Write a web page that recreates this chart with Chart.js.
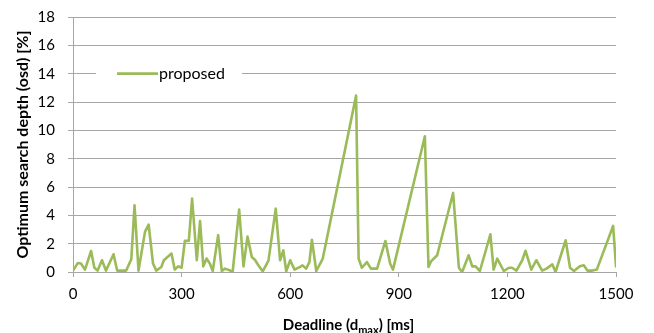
<!DOCTYPE html>
<html>
<head>
<meta charset="utf-8">
<script src="https://cdn.jsdelivr.net/npm/chart.js@4/dist/chart.umd.min.js"></script>
<style>
  html, body { margin: 0; padding: 0; background: #fff; }
  #wrap { width: 654px; height: 333px; }
</style>
</head>
<body>
<div id="wrap"><canvas id="osdChart" width="654" height="333"></canvas></div>
<script>
// deadline values (ms) and optimum search depth (%) for the proposed scheme
const deadlineMs = [
  0, 13, 22, 33, 50, 59, 68, 80, 91, 112, 122, 138, 147, 161, 170, 181, 199, 209, 221, 230,
  244, 251, 272, 281, 291, 300, 309, 320, 329, 342, 351, 360, 369, 378, 386, 401, 411, 420, 434, 441,
  459, 471, 482, 494, 503, 512, 524, 540, 560, 572, 581, 589, 600, 612, 626, 634, 644, 653, 660, 672,
  690, 782, 789, 798, 812, 823, 840, 863, 876, 884, 972, 982, 989, 1006, 1050, 1066, 1075, 1093, 1103, 1112,
  1124, 1153, 1162, 1172, 1190, 1204, 1213, 1225, 1241, 1250, 1266, 1280, 1296, 1308, 1324, 1333, 1361, 1373, 1384, 1400,
  1411, 1421, 1435, 1447, 1492, 1500
];
const osdPercent = [
  0.1, 0.63, 0.6, 0.17, 1.48, 0.3, 0.1, 0.83, 0.1, 1.25, 0.1, 0.1, 0.1, 0.9, 4.7, 0.1, 2.85, 3.35, 0.6, 0.1,
  0.35, 0.83, 1.3, 0.17, 0.4, 0.3, 2.2, 2.2, 5.18, 0.83, 3.6, 0.4, 0.95, 0.6, 0.07, 2.6, 0.07, 0.24, 0.1, 0,
  4.4, 0.4, 2.5, 1.06, 0.85, 0.47, 0.05, 0.8, 4.47, 0.83, 1.53, 0.05, 0.83, 0.17, 0.35, 0.47, 0.24, 0.7, 2.28, 0.07,
  0.95, 12.45, 0.94, 0.3, 0.7, 0.24, 0.24, 2.19, 0.6, 0.17, 9.58, 0.35, 0.75, 1.18, 5.58, 0.3, 0, 1.18, 0.4, 0.4,
  0.07, 2.66, 0.17, 0.94, 0.07, 0.3, 0.3, 0.1, 0.83, 1.5, 0.17, 0.83, 0.1, 0.24, 0.54, 0, 2.24, 0.3, 0.07, 0.4,
  0.47, 0.1, 0.1, 0.17, 3.25, 0.4
];
const seriesName = 'proposed';
const xTicks = [0, 300, 600, 900, 1200, 1500];
const yTicks = [0, 2, 4, 6, 8, 10, 12, 14, 16, 18];

const lineColor = '#9BBB59';
const gridColor = '#A6A6A6';
const fontFamily = 'Lato, "Open Sans", sans-serif';

const points = deadlineMs.map((d, k) => ({ x: d, y: osdPercent[k] }));

// legend box sitting inside the plot, over the 14% gridline
const innerLegend = {
  id: 'innerLegend',
  afterDatasetsDraw(chart) {
    const ctx = chart.ctx;
    const area = chart.chartArea;
    const yMid = chart.scales.y.getPixelForValue(14);
    const left = area.left + 23;
    ctx.save();
    ctx.fillStyle = '#fff';
    ctx.fillRect(left, yMid - 11, 146, 22);
    ctx.strokeStyle = lineColor;
    ctx.lineWidth = 2.6;
    ctx.beginPath();
    ctx.moveTo(left + 21, yMid);
    ctx.lineTo(left + 62, yMid);
    ctx.stroke();
    ctx.fillStyle = '#000';
    ctx.font = '16px ' + fontFamily;
    ctx.textBaseline = 'middle';
    ctx.fillText(chart.data.datasets[0].label, left + 63, yMid);
    ctx.restore();
  }
};

// x axis title with the subscript in d_max
const xTitle = {
  id: 'xTitle',
  afterDraw(chart) {
    const ctx = chart.ctx;
    const area = chart.chartArea;
    const parts = [
      { t: 'Deadline (d', f: 'bold 15px ' + fontFamily, dy: 0 },
      { t: 'max', f: 'bold 11px ' + fontFamily, dy: 4 },
      { t: ') [ms]', f: 'bold 15px ' + fontFamily, dy: 0 }
    ];
    ctx.save();
    let total = 0;
    parts.forEach(p => { ctx.font = p.f; p.w = ctx.measureText(p.t).width; total += p.w; });
    let x = (area.left + area.right) / 2 - total / 2 + 4;
    const base = 330;
    ctx.fillStyle = '#000';
    ctx.textBaseline = 'alphabetic';
    ctx.textAlign = 'left';
    parts.forEach(p => {
      ctx.font = p.f;
      ctx.fillText(p.t, x, base + p.dy);
      x += p.w;
    });
    ctx.restore();
  }
};

new Chart(document.getElementById('osdChart'), {
  type: 'line',
  data: {
    datasets: [{
      label: seriesName,
      data: points,
      borderColor: lineColor,
      backgroundColor: lineColor,
      borderWidth: 2.6,
      borderJoinStyle: 'round',
      borderCapStyle: 'round',
      pointRadius: 0,
      tension: 0,
      fill: false
    }]
  },
  options: {
    responsive: false,
    animation: false,
    events: [],
    layout: { padding: { top: 17, right: 38, bottom: 0, left: 0 } },
    plugins: { legend: { display: false }, tooltip: { enabled: false } },
    scales: {
      x: {
        type: 'linear',
        min: 0,
        max: 1500,
        afterBuildTicks(scale) { scale.ticks = xTicks.map(v => ({ value: v })); },
        afterFit(scale) { scale.height = 61; },
        border: { display: true, color: gridColor, width: 1 },
        grid: { drawOnChartArea: false, drawTicks: true, tickLength: 5, color: gridColor },
        ticks: {
          color: '#000', padding: 8, maxRotation: 0,
          font: { family: fontFamily, size: 15 },
          callback: v => String(v)
        }
      },
      y: {
        min: 0,
        max: 18,
        afterBuildTicks(scale) { scale.ticks = yTicks.map(v => ({ value: v })); },
        afterFit(scale) {
          scale.width = 73;
          scale.paddingTop = 0;
          scale.paddingBottom = 0;
        },
        border: { display: true, color: gridColor, width: 1 },
        grid: { color: gridColor, lineWidth: 1, drawTicks: true, tickLength: 5 },
        ticks: { color: '#000', padding: 13, font: { family: fontFamily, size: 15 } },
        title: {
          display: true,
          text: 'Optimum search depth (osd) [%]',
          color: '#000',
          padding: { top: 13, bottom: 0 },
          font: { family: fontFamily, size: 16, weight: 'bold' }
        }
      }
    }
  },
  plugins: [innerLegend, xTitle]
});
</script>
</body>
</html>
